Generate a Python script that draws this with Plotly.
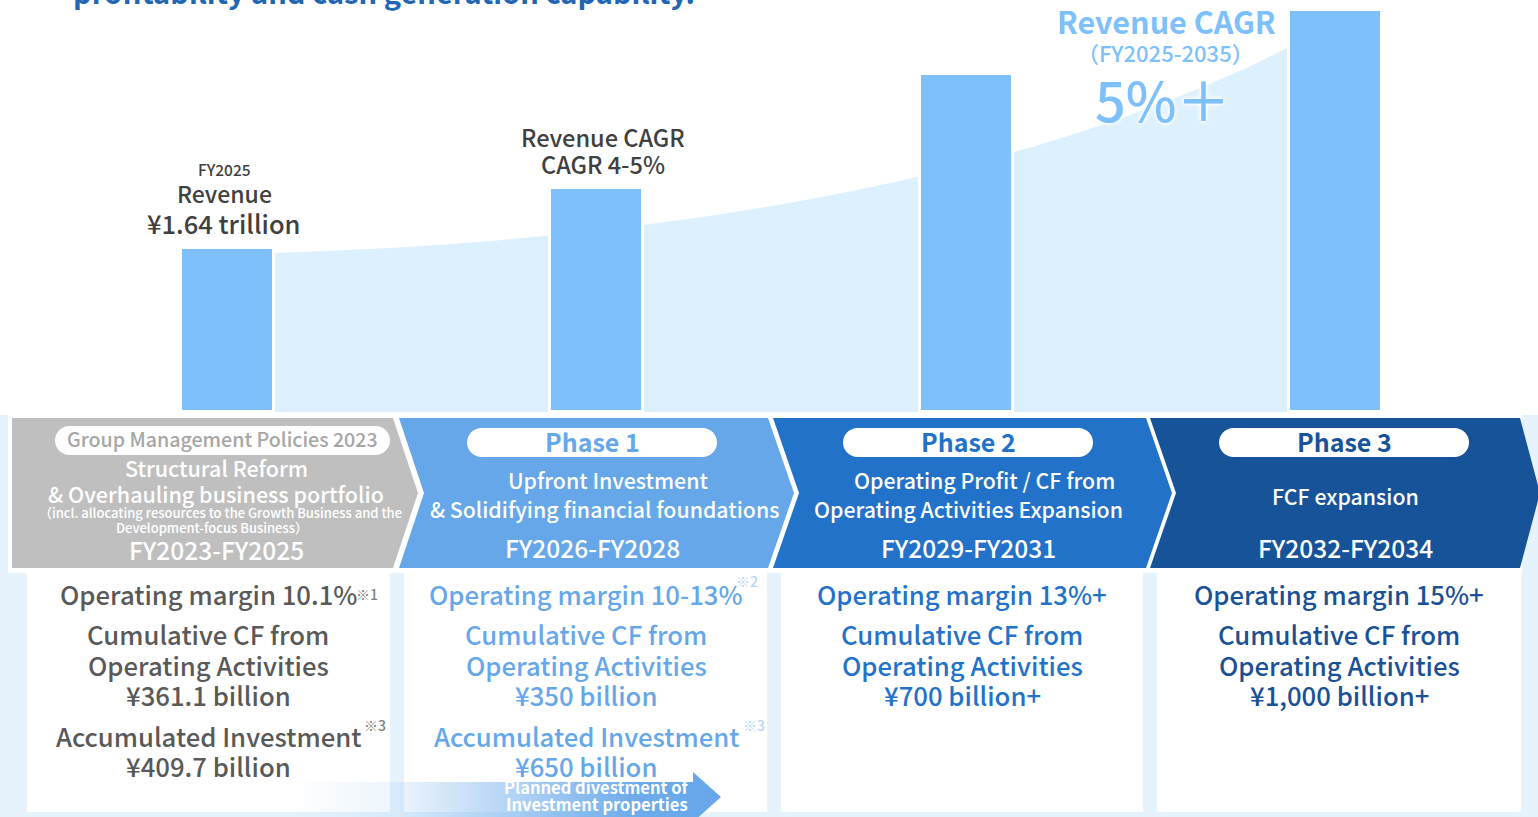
import plotly.graph_objects as go

W, H = 1538, 817
FONT = "Noto Sans CJK JP"

# ---- data -------------------------------------------------------------
# Revenue path, indexed so that the FY2025 bar equals ¥1.64 trillion
bar_periods = ["FY2025", "FY2028", "FY2031", "FY2034"]
revenue_index = [1.64, 2.24, 3.38, 4.02]

phase_names = ["Group Management Policies 2023", "Phase 1", "Phase 2", "Phase 3"]
phase_themes = [
    ["Structural Reform", "& Overhauling business portfolio"],
    ["Upfront Investment", "& Solidifying financial foundations"],
    ["Operating Profit / CF from", "Operating Activities Expansion"],
    ["FCF expansion"],
]
phase_periods = ["FY2023-FY2025", "FY2026-FY2028", "FY2029-FY2031", "FY2032-FY2034"]
operating_margin = ["10.1%", "10-13%", "13%+", "15%+"]
margin_notes = ["※1", "※2", "", ""]
cumulative_cf = ["¥361.1 billion", "¥350 billion", "¥700 billion+", "¥1,000 billion+"]
accumulated_investment = ["¥409.7 billion", "¥650 billion", "", ""]

# ---- styling ------------------------------------------------------------
BAR_BLUE = "#7DC0FC"
AREA_BLUE = "#DCF1FD"
BACK_BLUE = "#E6F3FD"
phase_fill = ["#BFBFBF", "#66A7EA", "#2272C9", "#175399"]
pill_text = ["#A6A6A6", "#66A7EA", "#2272C9", "#175399"]
card_text = ["#595959", "#66A7EA", "#2272C9", "#1A5096"]
note_text = ["#7F7F7F", "#B5D6F5", "#2272C9", "#175399"]
DARK = "#404040"
DY = -3  # baseline correction for the CJK font metrics

# column geometry (pixels)
chevrons = [
    # (left_top, left_notch, right_top, right_tip)
    (12, 12, 393, 418),
    (399, 424, 768, 794),
    (773, 799, 1146, 1172),
    (1150, 1176, 1520, 1540),
]
cards = [(27, 390), (404, 767), (781, 1143), (1157, 1521)]
pills = [(55, 390, 426, 455), (467, 717, 428, 457), (843, 1093, 428, 457), (1219, 1469, 428, 457)]
card_cx = [208, 586, 962, 1339]
text_cx = [216, 592, 968, 1345]

shapes = []


def rect(x0, x1, y0, y1, color):
    shapes.append(dict(type="rect", xref="x", yref="y", x0=x0, x1=x1, y0=y0, y1=y1,
                       fillcolor=color, line=dict(width=0), layer="below"))


def path(d, color):
    shapes.append(dict(type="path", xref="x", yref="y", path=d, fillcolor=color,
                       line=dict(width=0), layer="below"))


def pill(x0, x1, y0, y1):
    r = (y1 - y0) / 2
    k = 0.5523 * r
    return (f"M {x0 + r} {y0} L {x1 - r} {y0} "
            f"C {x1 - r + k} {y0} {x1} {y0 + r - k} {x1} {y0 + r} "
            f"C {x1} {y0 + r + k} {x1 - r + k} {y1} {x1 - r} {y1} "
            f"L {x0 + r} {y1} "
            f"C {x0 + r - k} {y1} {x0} {y0 + r + k} {x0} {y0 + r} "
            f"C {x0} {y0 + r - k} {x0 + r - k} {y0} {x0 + r} {y0} Z")


# lower panel backdrop and cards
rect(0, W, 415, H, BACK_BLUE)
rect(8, 1522, 415, 573, "white")
for x0, x1 in cards:
    rect(x0, x1, 573, 812, "white")

# growth band behind the bars
path("M 272 253 C 700 240 1050 170 1291 46 L 1291 412 L 272 412 Z", AREA_BLUE)

# phase chevrons
for i, (lt, ln, rt, tip) in enumerate(chevrons):
    if i == 0:
        d = f"M {lt} 418 L {rt} 418 L {tip} 493 L {rt} 568 L {lt} 568 Z"
    else:
        d = f"M {lt} 418 L {rt} 418 L {tip} 493 L {rt} 568 L {lt} 568 L {ln} 493 Z"
    path(d, phase_fill[i])
for x0, x1, y0, y1 in pills:
    path(pill(x0, x1, y0, y1), "white")

fig = go.Figure()

# divestment arrow with a horizontal fade
fig.add_trace(go.Scatter(
    x=[290, 693, 693, 721, 693, 693, 290, 290],
    y=[782, 782, 772, 797, 822, 830, 830, 782],
    mode="lines", fill="toself", line=dict(width=0), hoverinfo="skip",
    fillgradient=dict(type="horizontal", colorscale=[
        [0.0, "rgba(102,167,234,0)"], [0.25, "rgba(102,167,234,0.12)"],
        [0.55, "rgba(102,167,234,0.55)"], [0.8, "rgba(102,167,234,0.95)"],
        [1.0, "rgba(102,167,234,1)"]]),
    showlegend=False, xaxis="x", yaxis="y"))

# revenue bars
fig.add_trace(go.Bar(
    x=bar_periods, y=revenue_index, xaxis="x2", yaxis="y2",
    marker=dict(color=BAR_BLUE, line=dict(color="white", width=3)),
    width=93 / 369.5, hoverinfo="skip", showlegend=False))

annotations = []


def text(x, y, s, size, color, weight=500, shadow=None, ref="data"):
    f = dict(family=FONT, size=size, color=color, weight=weight)
    if shadow:
        f["shadow"] = shadow
    a = dict(x=x, y=y, text=s, showarrow=False, xanchor="center", yanchor="middle", font=f)
    if ref == "data":
        a.update(xref="x", yref="y", y=y + DY)
    else:
        a.update(xref="paper", yref="paper")
    annotations.append(a)


# heading (runs off the top edge)
text(384 / W, 1 + 9 / H, "profitability and cash generation capability.", 29, "#1F66B5",
     weight="bold", ref="paper")

# revenue labels
text(224, 172, "FY2025", 15.5, DARK)
text(224, 196, "Revenue", 23, DARK)
text(224, 225, f"¥{revenue_index[0]:.2f} trillion", 25.5, DARK)
text(603, 140, "Revenue CAGR", 23.5, DARK)
text(603, 167, "CAGR 4-5%", 23.5, DARK)
glow = "0px 0px 3px #ffffff, 0px 0px 4px #ffffff, 0px 0px 6px #ffffff"
text(1166, 24, "Revenue CAGR", 30.5, BAR_BLUE, weight="bold", shadow=glow)
text(1165, 55, "（FY2025-2035）", 22, BAR_BLUE, shadow=glow)
text(1163, 101, "5%＋", 54, BAR_BLUE, shadow=glow)

# phase headers
for i in range(4):
    x0, x1, y0, y1 = pills[i]
    text((x0 + x1) / 2, (y0 + y1) / 2 + 1, phase_names[i], 19.6 if i == 0 else 25,
         pill_text[i], weight=500 if i == 0 else "bold")
    text(text_cx[i], 550 if i else 552, phase_periods[i], 24.5, "white")

text(216, 470, phase_themes[0][0], 21.5, "white")
text(216, 496, phase_themes[0][1], 21.5, "white")
text(220, 515, "（incl. allocating resources to the Growth Business and the", 13, "white")
text(212, 530, "Development-focus Business）", 13, "white")
text(608, 482, phase_themes[1][0], 21.3, "white")
text(604, 511, phase_themes[1][1], 21.3, "white")
text(984, 482, phase_themes[2][0], 21.3, "white")
text(968, 511, phase_themes[2][1], 21.3, "white")
text(1345, 498, phase_themes[3][0], 21.3, "white")

# KPI cards
CS = 25.7
for i in range(4):
    cx = card_cx[i]
    c = card_text[i]
    text(cx, 596, f"Operating margin {operating_margin[i]}", CS, c)
    text(cx, 636, "Cumulative CF from", CS, c)
    text(cx, 667, "Operating Activities", CS, c)
    text(cx, 697, cumulative_cf[i], CS, c)
    if accumulated_investment[i]:
        text(cx, 738, "Accumulated Investment", CS, c)
        text(cx, 768, accumulated_investment[i], CS, c)

text(367, 597, margin_notes[0], 14, note_text[0])
text(747, 584, margin_notes[1], 14, note_text[1])
text(375, 728, "※3", 14, note_text[0])
text(754, 728, "※3", 14, note_text[1])

text(596, 790, "Planned divestment of", 16.5, "white", weight="bold")
text(597, 807, "Investment properties", 16.5, "white", weight="bold")

fig.update_layout(
    width=W, height=H,
    margin=dict(l=0, r=0, t=0, b=0),
    paper_bgcolor="white", plot_bgcolor="rgba(0,0,0,0)",
    shapes=shapes, annotations=annotations,
    showlegend=False, hovermode=False,
    xaxis=dict(range=[0, W], visible=False, fixedrange=True, domain=[0, 1]),
    yaxis=dict(range=[H, 0], visible=False, fixedrange=True, domain=[0, 1]),
    xaxis2=dict(type="category", categoryorder="array", categoryarray=bar_periods,
                range=[-227 / 369.5, (W - 227) / 369.5], visible=False, fixedrange=True,
                domain=[0, 1], anchor="y2"),
    yaxis2=dict(range=[0, 4.12], visible=False, fixedrange=True,
                domain=[1 - 412 / H, 1], anchor="x2"),
    bargap=0,
)

fig.write_html("out.html", config={"displayModeBar": False})
